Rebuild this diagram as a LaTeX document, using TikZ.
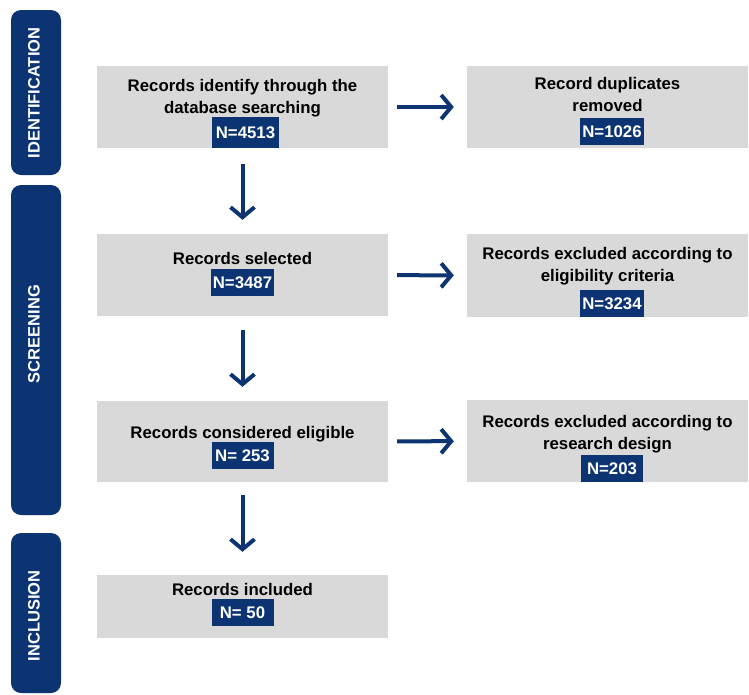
\documentclass[tikz,border=0pt]{standalone}
\usepackage{fontspec}
\setmainfont{Liberation Sans}
\usetikzlibrary{arrows.meta}
\usetikzlibrary{positioning}

\definecolor{navy}{HTML}{0C3473}
\definecolor{boxgray}{HTML}{D9D9D9}

\tikzset{
 stage/.style={fill=navy, rounded corners=10pt},
 stagetext/.style={text=white, rotate=90, inner sep=0, font=\fontsize{16.5}{20}\selectfont\bfseries},
 leftbox/.style={fill=boxgray, minimum width=291pt, inner sep=0},
 rightbox/.style={fill=boxgray, minimum width=281pt, inner sep=0},
 title/.style={anchor=north, inner sep=0, align=center, font=\fontsize{16.8}{22.5}\selectfont\bfseries},
 badge/.style={anchor=north, fill=navy, text=white, minimum width=62pt, minimum height=27pt, inner xsep=2pt, inner ysep=0, font=\fontsize{16.8}{20}\selectfont\bfseries},
 flow/.style={navy, line width=4pt, ->, >={Straight Barb[length=10pt,width=24pt]}}
}

\begin{document}
\begin{tikzpicture}[x=1pt, y=-1pt]
\useasboundingbox (0,0) rectangle (749,694);

% stages on the left
\fill[stage] (11,10) rectangle (61,175);
\fill[stage] (11,185) rectangle (61,515);
\fill[stage] (11,533) rectangle (61,693);
\node[stagetext] (identlabel) at (34,93) {IDENTIFICATION};
\node[stagetext] (screenlabel) at (34,334) {SCREENING};
\node[stagetext] (inclabel) at (34,616) {INCLUSION};

% main column
\node[leftbox, minimum height=82pt] (ident) at (242.5,107) {};
\node[title] (identtext) at (242.5,79) {Records identify through the\\database searching};
\node[badge, minimum width=67pt, minimum height=31pt] (identn) at (245.5,117) {N=4513};

\node[leftbox, minimum height=82pt] (select) at (242.5,275) {};
\node[title] (selecttext) at (242.5,252) {Records selected};
\node[badge] (selectn) at (242.5,269) {N=3487};

\node[leftbox, minimum height=81pt] (elig) at (242.5,441.5) {};
\node[title] (eligtext) at (242.5,426) {Records considered eligible};
\node[badge] (elign) at (242.5,442) {N= 253};

\node[leftbox, minimum height=63pt] (incl) at (242.5,606.5) {};
\node[title] (incltext) at (242.5,583) {Records included};
\node[badge] (incln) at (242.5,599) {N= 50};

% exclusions on the right
\node[rightbox, minimum height=82pt] (dupl) at (607.5,107) {};
\node[title] (dupltext) at (607.5,77) {Record duplicates\\removed};
\node[badge] (dupln) at (612,118) {N=1026};

\node[rightbox, minimum height=83pt] (excrit) at (607.5,275.5) {};
\node[title] (excrittext) at (607.5,247) {Records excluded according to\\eligibility criteria};
\node[badge] (excritn) at (612,290) {N=3234};

\node[rightbox, minimum height=82pt] (exdes) at (607.5,441) {};
\node[title] (exdestext) at (607.5,415) {Records excluded according to\\research design};
\node[badge] (exdesn) at (612,455) {N=203};

% arrows
\draw[flow, shorten <=16pt, shorten >=14pt] (ident) -- (select);
\draw[flow, shorten <=14pt, shorten >=14pt] (select) -- (elig);
\draw[flow, shorten <=13pt, shorten >=23pt] (elig) -- (incl);
\draw[flow, shorten <=9pt, shorten >=13pt] (ident) -- (dupl);
\draw[flow, shorten <=9pt, shorten >=13pt] (select) -- (excrit);
\draw[flow, shorten <=9pt, shorten >=13pt] (elig) -- (exdes);
\end{tikzpicture}
\end{document}
